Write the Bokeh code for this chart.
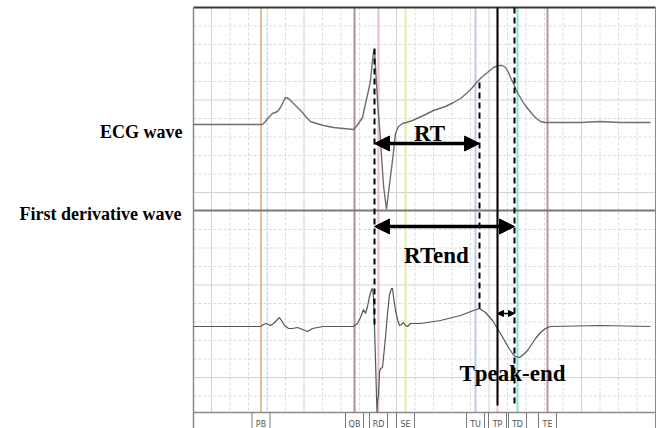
import numpy as np
from bokeh.plotting import figure
from bokeh.models import Range1d, Arrow, NormalHead
from bokeh.embed import file_html
from bokeh.resources import INLINE
from bokeh.core.properties import value

# ---------------- data (time in samples, amplitude in arbitrary units) ----------------
ecg_t = [0, 69, 72, 75, 79, 84, 87, 90, 92, 95, 98, 101, 105, 109, 113, 117, 123, 130, 140, 150,
         160, 162, 165, 169, 172, 175, 177, 179, 180, 181, 182, 184, 187, 190, 193, 195, 199, 202,
         205, 209, 213, 219, 232, 240, 252, 260, 267, 274, 279, 284, 289, 294, 300, 305, 309, 312,
         315, 317, 320, 322, 325, 328, 331, 335, 339, 343, 347, 352, 367, 387, 407, 427, 457]
ecg_v = [0, 0, 3, 7, 11, 13, 17, 23, 27, 26, 23, 20, 16, 12, 7, 3, 1, -1, -3, -4,
         -5, -3, 1, 7, 21, 34, 44, 64, 72, 75, 58, 24, -16, -61, -85, -68, -36, -9,
         -2, 1, 2, 4, 10, 14, 18, 22, 26, 32, 37, 43, 48, 52, 57, 59, 59, 57,
         52, 47, 41, 36, 30, 25, 20, 15, 10, 6, 3, 2, 2, 2, 3, 2, 2]

der_t = [0, 67, 70, 73, 77, 80, 83, 86, 88, 91, 95, 99, 104, 109, 114, 119, 124, 130, 160, 164,
         167, 170, 172, 174, 176, 178, 179, 180, 181, 182, 183, 183.5, 184, 185, 186, 187, 189, 190,
         192, 194, 196, 198, 199, 200, 202, 204, 206, 208, 210, 212, 214, 217, 227, 247, 267, 280,
         286, 292, 299, 307, 315, 319, 322, 326, 330, 334, 338, 342, 347, 352, 357, 407, 457]
der_v = [0, 0, 2, 3, 1, 3, 6, 9, 6, 1, -2, -2, -1, -3, -5, -2, -1, 0, 0, 3,
         9, 17, 13, 20, 30, 37, 38, 29, 0, -34, -69, -86, -74, -69, -46, -42, -41, -31,
         -11, 13, 32, 38, 38, 30, 16, 7, 1, 2, 4, 1, 0, 3, 3, 6, 11, 16,
         18, 14, 6, -7, -21, -27, -30, -31, -28, -24, -18, -12, -6, -2, 0, 1, 0]

marker_names = ["PB", "QB", "RD", "SE", "TU", "TP", "TD", "TE"]
marker_t = [67.5, 161, 185, 212, 282, 304, 324, 354]
marker_colors = ["#e3c09a", "#ad8f9f", "#ebc0cd", "#e5eba8", "#c2c9e6", "#e9c8d5", "#8ae2d8", "#b893aa"]

r_peak_t = 181      # R peak
t_up_t = 286        # max slope of T upstroke
t_peak_t = 304      # T peak
t_end_t = 321       # T end

# ---------------- figure ----------------
W, H = 660, 428
p = figure(width=W, height=H, output_backend="svg", toolbar_location=None,
           x_axis_type=None, y_axis_type=None,
           x_range=Range1d(-193, 467), y_range=Range1d(-304, 124),
           min_border=0, background_fill_color="white", border_fill_color="white")
p.outline_line_color = None
p.grid.visible = False
p.extra_y_ranges = {"der": Range1d(-102, 326)}

box_l, box_r, box_t, box_b, strip_b = 0, 462, 117, -288, -304

# grid
step = 18.5
vx = np.arange(18, box_r - 2, step)
hy = box_t - step * np.arange(0, 22)
minor_vx = [x for i, x in enumerate(vx) if i % 5]
major_vx = [x for i, x in enumerate(vx) if i % 5 == 0]
minor_hy = [y for i, y in enumerate(hy) if i % 5 and i > 0]
major_hy = [y for i, y in enumerate(hy) if i % 5 == 0 and i > 0]
p.segment(x0=minor_vx, y0=box_t, x1=minor_vx, y1=box_b, line_color="#dadada", line_width=1, line_dash="3 2")
p.segment(x0=box_l, y0=minor_hy, x1=box_r, y1=minor_hy, line_color="#dadada", line_width=1, line_dash="3 2")
p.segment(x0=major_vx, y0=box_t, x1=major_vx, y1=box_b, line_color="#d2d2d2", line_width=1)
p.segment(x0=box_l, y0=major_hy, x1=box_r, y1=major_hy, line_color="#d2d2d2", line_width=1)

# marker lines
p.segment(x0=[74], y0=box_t, x1=[74], y1=box_b, line_color="#b5d3ea", line_width=1, line_dash="2 2")
p.segment(x0=marker_t, y0=box_t, x1=marker_t, y1=box_b, line_color=marker_colors, line_width=2)

# divider line for derivative label
p.segment(x0=[box_l], y0=[-86], x1=[box_r], y1=[-86], line_color="#7a7a7a", line_width=2)

# frame
p.segment(x0=[box_l, box_l, box_r], y0=[box_t, box_b, box_t], x1=[box_r, box_r, box_r],
          y1=[box_t, box_b, strip_b], line_color=["#3a3a3a", "#8a8a8a", "#8a8a8a"], line_width=[2, 1.5, 1])
p.segment(x0=[box_l], y0=[box_t], x1=[box_l], y1=[strip_b], line_color="#8a8a8a", line_width=1.5)

# strip label boxes
mt = np.array(marker_t)
p.segment(x0=list(mt - 9) + list(mt + 9), y0=box_b, x1=list(mt - 9) + list(mt + 9), y1=strip_b,
          line_color="#7a7a7a", line_width=1)
p.text(x=marker_t, y=[-299.5] * len(marker_t), text=marker_names, text_align="center",
       text_baseline="alphabetic", text_font_size="8px", text_color="#555555",
       text_font=value("DejaVu Sans"))

# traces
p.line(ecg_t, ecg_v, line_color="#6e6e6e", line_width=1.4)
p.line(der_t, der_v, line_color="#555555", line_width=1.2, y_range_name="der")

# measurement lines
p.segment(x0=[r_peak_t, t_up_t, t_end_t], y0=[76, 42, box_t], x1=[r_peak_t, t_up_t, t_end_t],
          y1=[-204, -184, -281], line_color="black", line_width=2, line_dash="6 4")
p.segment(x0=[t_peak_t], y0=[box_t], x1=[t_peak_t], y1=[-281], line_color="black", line_width=2)

def head(s):
    return NormalHead(size=s, fill_color="black", line_color="black")

p.add_layout(Arrow(start=head(15), end=head(15), x_start=r_peak_t, y_start=-19, x_end=t_up_t, y_end=-19,
                   line_width=3.5, line_color="black"))
p.add_layout(Arrow(start=head(15), end=head(15), x_start=r_peak_t, y_start=-102, x_end=t_end_t, y_end=-102,
                   line_width=3.5, line_color="black"))
p.add_layout(Arrow(start=head(6), end=head(6), x_start=t_peak_t, y_start=-189, x_end=t_end_t, y_end=-189,
                   line_width=1.5, line_color="black"))

serif = value("Liberation Serif")
p.text(x=[-11, -12], y=[-7, -89], text=["ECG wave", "First derivative wave"], text_align="right",
       text_baseline="alphabetic", text_font_size="18px", text_font_style="bold", text_font=serif,
       text_color="black")
p.text(x=[236, 243], y=[-9, -131], text=["RT", "RTend"], text_align="center",
       text_baseline="alphabetic", text_font_size="23px", text_font_style="bold", text_font=serif,
       text_color="black")
p.text(x=[319], y=[-249], text=["Tpeak-end"], text_align="center",
       text_baseline="alphabetic", text_font_size="23px", text_font_style="bold", text_font=serif,
       text_color="black")

open("out.html", "w").write(file_html(p, INLINE))
